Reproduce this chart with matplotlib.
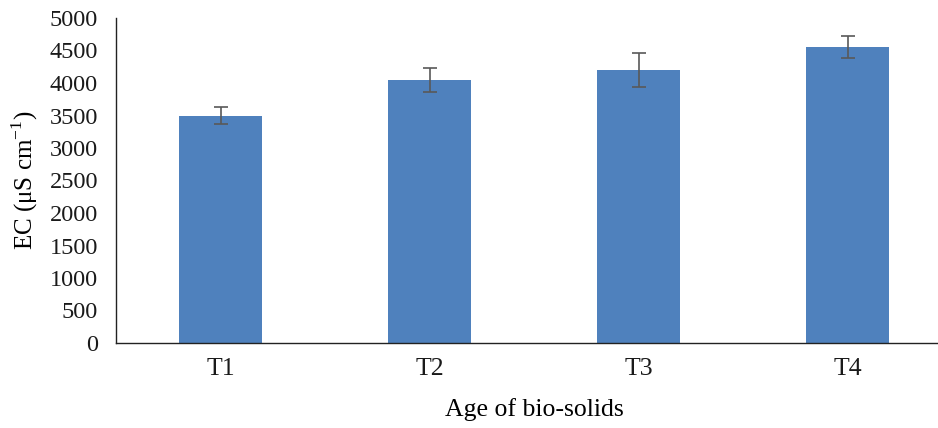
import matplotlib
matplotlib.use("Agg")
import matplotlib.pyplot as plt

categories = ["T1", "T2", "T3", "T4"]
values = [3500, 4045, 4200, 4555]
errors = [125, 190, 260, 170]
yticks = [0, 500, 1000, 1500, 2000, 2500, 3000, 3500, 4000, 4500, 5000]

plt.rcParams['font.family'] = ['Liberation Serif', 'DejaVu Serif']
plt.rcParams['mathtext.fontset'] = 'custom'
plt.rcParams['mathtext.rm'] = 'Liberation Serif'

fig = plt.figure(figsize=(9.38, 4.28), dpi=100)
ax = fig.add_axes([116/938, 85/428, (952-116)/938, 325/428])

x = list(range(len(categories)))
ax.bar(x, values, width=0.40, color='#4F81BD', zorder=2)
ax.errorbar(x, values, yerr=errors, fmt='none', ecolor='#595959',
            elinewidth=1.2, capsize=5, capthick=1.2, zorder=3)

ax.set_xlim(-0.5, 3.5)
ax.set_ylim(0, 5000)
ax.set_xticks(x)
ax.set_xticklabels(categories)
ax.set_yticks(yticks)
ax.set_yticklabels([str(v) for v in yticks])
ax.tick_params(axis='both', length=0, colors='#1a1a1a')
ax.tick_params(axis='x', pad=11, labelsize=18.5)
ax.tick_params(axis='y', pad=13, labelsize=17.5)
for s in ['top', 'right']:
    ax.spines[s].set_visible(False)
for s in ['left', 'bottom']:
    ax.spines[s].set_color('#222222')
    ax.spines[s].set_linewidth(1.0)

ax.set_xlabel('Age of bio-solids', fontsize=18.5, labelpad=13)
ax.set_ylabel('EC (μS cm$^{-1}$)', fontsize=18, labelpad=7)

fig.savefig('out.png', dpi=100)
